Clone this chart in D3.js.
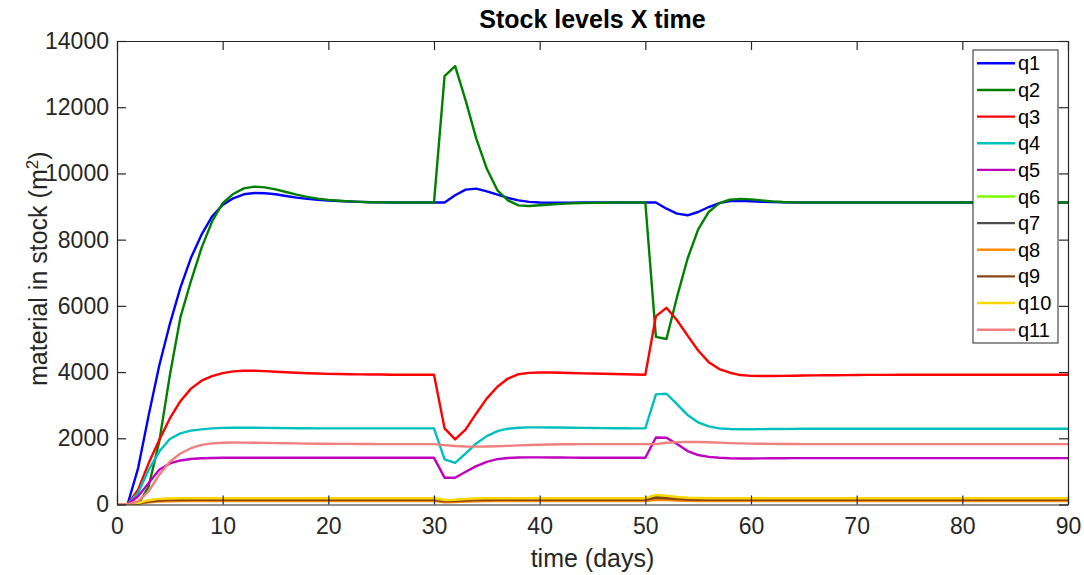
<!DOCTYPE html>
<html><head><meta charset="utf-8">
<script src="https://cdn.jsdelivr.net/npm/d3@7"></script>
<style>body{margin:0;background:#fff}svg{display:block}text{font-family:"Liberation Sans",Arial,Helvetica,sans-serif}</style>
</head><body><svg id="c" width="1084" height="575"></svg>
<script>
const days = d3.range(0, 91);
const seriesNames = ["q1","q2","q3","q4","q5","q6","q7","q8","q9","q10","q11"];
const seriesColors = ["#0000ff","#008000","#ff0000","#00bfbf","#bf00bf","#7cfc00","#4d4d4d","#ff8c00","#8b4513","#ffd700","#f08080"];
const xTicks = [0,10,20,30,40,50,60,70,80,90];
const yTicks = [0,2000,4000,6000,8000,10000,12000,14000];

const q1 = [0,0,1100,2700,4200,5450,6550,7450,8150,8700,9050,9250,9370,9410,9400,9370,9320,9270,9230,9200,9180,9165,9150,9140,9130,9125,9122,9120,9120,9120,9120,
 9120,9340,9510,9540,9460,9360,9260,9185,9140,9120,9115,9115,9118,9120,9120,9120,9120,9120,9120,9120,
 9120,8935,8785,8735,8835,8985,9105,9165,9170,9160,9145,9135,9128,9124,9120,9120,9120,9120,9120,9120,
 9120,9120,9120,9120,9120,9120,9120,9120,9120,9120,9120,9120,9120,9120,9120,9120,9120,9120,9120,9120];
const q2 = [0,0,0,550,1900,3900,5650,6750,7750,8550,9100,9380,9550,9600,9580,9520,9440,9360,9290,9240,9200,9175,9155,9140,9130,9125,9120,9120,9120,9120,9120,
 12940,13240,12200,11050,10140,9490,9185,9035,9015,9040,9060,9080,9095,9105,9112,9116,9120,9120,9120,9120,
 5065,5000,6270,7430,8310,8835,9105,9210,9230,9215,9185,9155,9135,9125,9120,9120,9120,9120,9120,9120,
 9120,9120,9120,9120,9120,9120,9120,9120,9120,9120,9120,9120,9120,9120,9120,9120,9120,9120,9120,9120];
const q3 = [0,0,450,1250,1950,2600,3120,3500,3740,3880,3970,4020,4040,4040,4030,4010,3995,3980,3965,3955,3945,3940,3935,3930,3927,3925,3920,3920,3920,3920,3920,
 2300,1965,2270,2750,3205,3555,3805,3935,3975,3985,3985,3978,3970,3962,3955,3948,3940,3935,3928,3920,
 5690,5940,5565,5100,4650,4300,4090,3980,3910,3885,3880,3882,3885,3890,3895,3900,3903,3906,3909,3912,
 3914,3915,3916,3917,3918,3918,3919,3919,3920,3920,3920,3920,3920,3920,3920,3920,3920,3920,3920,3920];
const q4 = [0,0,350,1050,1600,1980,2150,2230,2270,2300,2315,2320,2320,2318,2315,2310,2307,2305,2302,2300,2300,2300,2300,2300,2300,2300,2300,2300,2300,2300,2300,
 1365,1260,1545,1845,2065,2215,2290,2320,2330,2330,2328,2325,2320,2315,2310,2307,2304,2302,2300,2300,
 3325,3345,3030,2700,2480,2360,2300,2280,2275,2275,2278,2280,2282,2285,2287,2288,2289,2290,2290,2290,
 2290,2290,2290,2290,2290,2290,2290,2290,2290,2290,2290,2290,2290,2290,2290,2290,2290,2290,2290,2290];
const q5 = [0,0,250,650,1050,1240,1330,1375,1395,1405,1410,1412,1412,1410,1410,1410,1410,1410,1410,1410,1410,1410,1410,1410,1410,1410,1410,1410,1410,1410,1410,
 810,810,990,1160,1290,1370,1405,1420,1422,1422,1420,1418,1416,1414,1412,1412,1412,1412,1412,1412,
 2025,2015,1825,1615,1495,1440,1410,1395,1390,1390,1392,1395,1398,1400,1401,1402,1402,1402,1402,1402,
 1402,1402,1402,1402,1402,1402,1402,1402,1402,1402,1402,1402,1402,1402,1402,1402,1402,1402,1402,1402];
const q6 = [0,0,40,120,160,175,178,180,180,180,180,180,180,180,180,180,180,180,180,180,180,180,180,180,180,180,180,180,180,180,180,
 130,140,160,172,178,180,180,180,180,180,180,180,180,180,180,180,180,180,180,180,
 270,250,215,195,185,181,180,180,180,180,180,180,180,180,180,180,180,180,180,180,
 180,180,180,180,180,180,180,180,180,180,180,180,180,180,180,180,180,180,180,180];
const q7 = [0,0,30,95,125,138,143,145,145,145,145,145,145,145,145,145,145,145,145,145,145,145,145,145,145,145,145,145,145,145,145,
 100,108,125,137,143,145,145,145,145,145,145,145,145,145,145,145,145,145,145,145,
 210,195,170,155,149,146,145,145,145,145,145,145,145,145,145,145,145,145,145,145,
 145,145,145,145,145,145,145,145,145,145,145,145,145,145,145,145,145,145,145,145];
const q8 = [0,0,20,65,90,100,104,105,105,105,105,105,105,105,105,105,105,105,105,105,105,105,105,105,105,105,105,105,105,105,105,
 65,72,88,98,103,105,105,105,105,105,105,105,105,105,105,105,105,105,105,105,
 140,132,118,110,107,106,105,105,105,105,105,105,105,105,105,105,105,105,105,105,
 105,105,105,105,105,105,105,105,105,105,105,105,105,105,105,105,105,105,105,105];
const q9 = [0,0,28,90,120,133,138,140,140,140,140,140,140,140,140,140,140,140,140,140,140,140,140,140,140,140,140,140,140,140,140,
 95,103,120,132,138,140,140,140,140,140,140,140,140,140,140,140,140,140,140,140,
 200,186,162,150,144,141,140,140,140,140,140,140,140,140,140,140,140,140,140,140,
 140,140,140,140,140,140,140,140,140,140,140,140,140,140,140,140,140,140,140,140];
const q10 = [0,0,45,130,170,183,188,190,190,190,190,190,190,190,190,190,190,190,190,190,190,190,190,190,190,190,190,190,190,190,190,
 135,145,166,180,187,190,190,190,190,190,190,190,190,190,190,190,190,190,190,190,
 290,265,228,205,195,191,190,190,190,190,190,190,190,190,190,190,190,190,190,190,
 190,190,190,190,190,190,190,190,190,190,190,190,190,190,190,190,190,190,190,190];
const q11 = [0,0,100,400,900,1290,1540,1700,1800,1845,1865,1872,1870,1865,1860,1855,1850,1845,1840,1837,1835,1832,1830,1828,1826,1825,1825,1825,1825,1825,1825,
 1795,1765,1750,1748,1752,1760,1770,1785,1795,1805,1812,1818,1822,1825,1825,1825,1825,1825,1825,1825,
 1825,1865,1885,1892,1890,1880,1868,1855,1845,1838,1833,1830,1828,1826,1825,1825,1825,1825,1825,1825,
 1825,1825,1825,1825,1825,1825,1825,1825,1825,1825,1825,1825,1825,1825,1825,1825,1825,1825,1825,1825];
const seriesValues = [q1,q2,q3,q4,q5,q6,q7,q8,q9,q10,q11];

const svg = d3.select("#c");
const L = 117, R = 1068, T = 41, B = 504.5;
const x = d3.scaleLinear().domain([0,90]).range([L,R]);
const y = d3.scaleLinear().domain([0,14000]).range([B,T]);
const axisColor = "#262626";

svg.append("defs").append("clipPath").attr("id","clip").append("rect")
  .attr("x",L).attr("y",T).attr("width",R-L).attr("height",B-T);

const g = svg.append("g").attr("clip-path","url(#clip)");
const line = d3.line().x((d,i)=>x(days[i])).y(d=>y(d));
seriesValues.forEach((vals,k)=>{
  g.append("path").attr("d",line(vals)).attr("fill","none")
   .attr("stroke",seriesColors[k]).attr("stroke-width",2.4).attr("stroke-linejoin","round");
});

// axes
const tl = 9;
const xb = svg.append("g").attr("transform",`translate(0,${B})`)
  .call(d3.axisBottom(x).tickValues(xTicks).tickSize(-tl).tickPadding(13).tickSizeOuter(0));
const xt = svg.append("g").attr("transform",`translate(0,${T})`)
  .call(d3.axisTop(x).tickValues(xTicks).tickSize(-tl).tickFormat("").tickSizeOuter(0));
const yl = svg.append("g").attr("transform",`translate(${L},0)`)
  .call(d3.axisLeft(y).tickValues(yTicks).tickSize(-tl).tickPadding(8).tickFormat(d3.format("d")).tickSizeOuter(0));
const yr = svg.append("g").attr("transform",`translate(${R},0)`)
  .call(d3.axisRight(y).tickValues(yTicks).tickSize(-tl).tickFormat("").tickSizeOuter(0));
[xb,xt,yl,yr].forEach(a=>{
  a.selectAll("path").attr("stroke",axisColor).attr("stroke-width",1.2);
  a.selectAll("line").attr("stroke",axisColor).attr("stroke-width",1.2);
  a.selectAll("text").attr("fill",axisColor).style("font-size","23px");
});
xb.selectAll("text").attr("dy","0.71em");

// title & labels
svg.append("text").attr("x",(L+R)/2).attr("y",28).attr("text-anchor","middle")
  .style("font-size","25px").style("font-weight","bold").attr("fill","#000").text("Stock levels X time");
svg.append("text").attr("x",(L+R)/2).attr("y",567).attr("text-anchor","middle")
  .style("font-size","25px").attr("fill",axisColor).text("time (days)");
const yt = svg.append("text").attr("transform",`translate(47,${(T+B)/2 - 4}) rotate(-90)`).attr("text-anchor","middle")
  .style("font-size","25px").attr("fill",axisColor);
yt.append("tspan").text("material in stock (m");
yt.append("tspan").attr("dy","-9").style("font-size","17px").text("2");
yt.append("tspan").attr("dy","9").text(")");

// legend
const lg = svg.append("g");
const lx = 973, ly = 50, lw = 85, lh = 293, rowH = lh/11;
lg.append("rect").attr("x",lx).attr("y",ly).attr("width",lw).attr("height",lh)
  .attr("fill","#fff").attr("stroke",axisColor).attr("stroke-width",1);
seriesNames.forEach((n,k)=>{
  const cy = ly + rowH*(k+0.5);
  lg.append("line").attr("x1",lx+4).attr("x2",lx+42).attr("y1",cy).attr("y2",cy)
    .attr("stroke",seriesColors[k]).attr("stroke-width",2.4);
  lg.append("text").attr("x",lx+45).attr("y",cy).attr("dy","0.35em")
    .style("font-size","20px").attr("fill","#000").text(n);
});
</script></body></html>
